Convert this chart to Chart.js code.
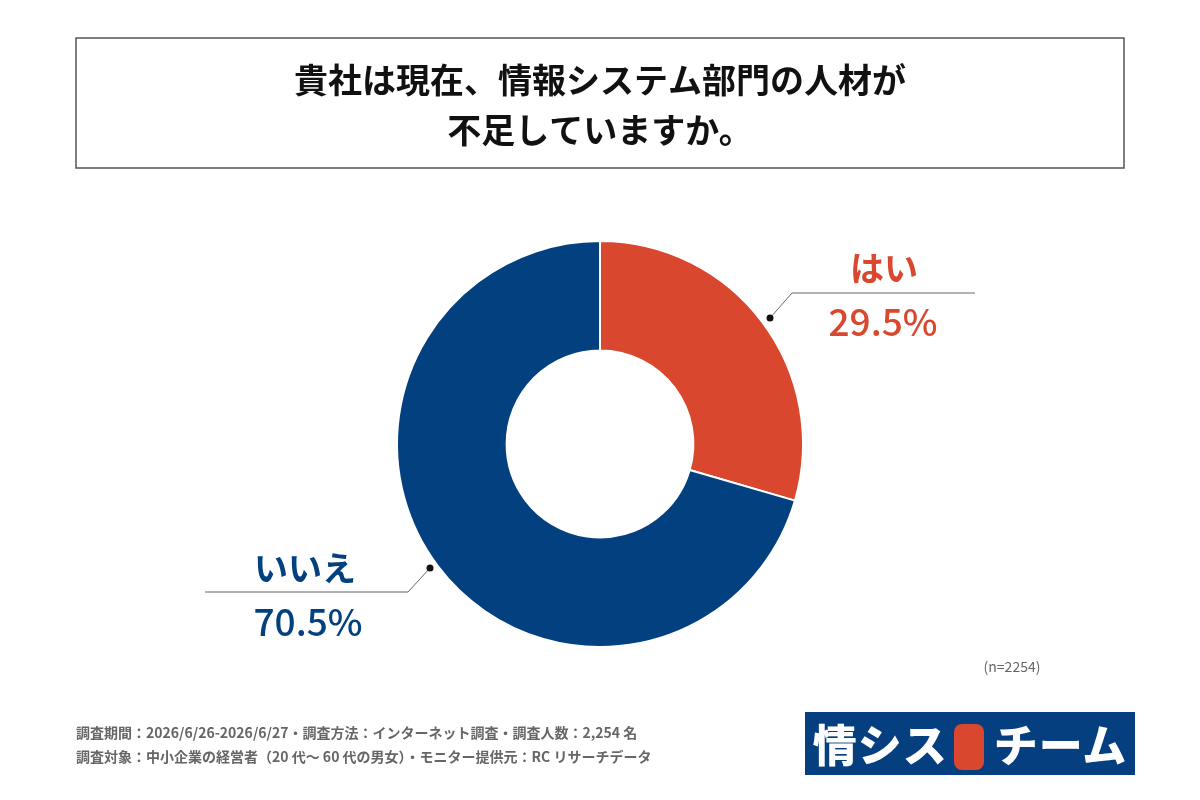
<!DOCTYPE html>
<html><head><meta charset="utf-8">
<script src="https://cdn.jsdelivr.net/npm/chart.js@4"></script>
<style>
body{margin:0;background:#fff;font-family:"Noto Sans CJK JP",sans-serif}
#wrap{position:relative;width:1200px;height:800px}
.logo{position:absolute;left:805px;top:712px;width:330px;height:63px;background:#063f80;color:#fff;font-weight:900;font-size:44px;line-height:63px;text-align:center;letter-spacing:1px}
.logo b{display:inline-block;background:#d9472f;border-radius:8px;width:30px;height:46px;vertical-align:middle;margin:0 10px 6px 6px}
</style></head>
<body><div id="wrap"><canvas id="c" width="1200" height="800"></canvas>
<div class="logo">情シス<b></b>チーム</div></div>
<script>
const data = {
  labels: ["はい", "いいえ"],
  datasets: [{
    data: [29.5, 70.5],
    backgroundColor: ["#d9472f", "#03407f"],
    borderColor: "#fff",
    borderWidth: 2,
  }],
};

const deco = {
  id: "deco",
  afterDraw(chart) {
    const ctx = chart.ctx;
    const font = "'Noto Sans CJK JP', sans-serif";
    ctx.save();
    // title box
    ctx.strokeStyle = "#555"; ctx.lineWidth = 1.5;
    ctx.strokeRect(76, 38, 1048, 130);
    ctx.fillStyle = "#111"; ctx.textAlign = "center"; ctx.textBaseline = "middle";
    ctx.font = "bold 34px " + font;
    ctx.fillText("貴社は現在、情報システム部門の人材が", 600, 80);
    ctx.fillText("不足していますか。", 600, 130);
    // leader lines
    ctx.strokeStyle = "#666"; ctx.lineWidth = 1;
    ctx.beginPath(); ctx.moveTo(770, 318); ctx.lineTo(792, 293); ctx.lineTo(975, 293); ctx.stroke();
    ctx.beginPath(); ctx.moveTo(430, 568); ctx.lineTo(408, 592); ctx.lineTo(205, 592); ctx.stroke();
    ctx.fillStyle = "#111";
    [[770, 318], [430, 568]].forEach(p => { ctx.beginPath(); ctx.arc(p[0], p[1], 3.5, 0, Math.PI * 2); ctx.fill(); });
    // labels
    ctx.fillStyle = "#d9472f";
    ctx.font = "bold 34px " + font; ctx.fillText("はい", 884, 268);
    ctx.font = "500 37px " + font; ctx.fillText("29.5%", 883, 322);
    ctx.fillStyle = "#03407f";
    ctx.font = "bold 34px " + font; ctx.fillText("いいえ", 305, 568);
    ctx.font = "500 37px " + font; ctx.fillText("70.5%", 308, 622);
    // n
    ctx.fillStyle = "#666"; ctx.font = "14px " + font;
    ctx.fillText("(n=2254)", 1012, 667);
    // footer
    ctx.textAlign = "left"; ctx.font = "bold 14px " + font;
    ctx.fillText("調査期間：2026/6/26-2026/6/27・調査方法：インターネット調査・調査人数：2,254 名", 76, 733);
    ctx.fillText("調査対象：中小企業の経営者（20 代〜 60 代の男女）・モニター提供元：RC リサーチデータ", 76, 757);
    ctx.restore();
  },
};

new Chart(document.getElementById("c").getContext("2d"), {
  type: "doughnut",
  data: data,
  options: {
    responsive: false,
    animation: false,
    cutout: "46%",
    layout: { padding: { left: 396, right: 396, top: 240, bottom: 152 } },
    plugins: { legend: { display: false }, tooltip: { enabled: false } },
  },
  plugins: [deco],
});
</script></body></html>
